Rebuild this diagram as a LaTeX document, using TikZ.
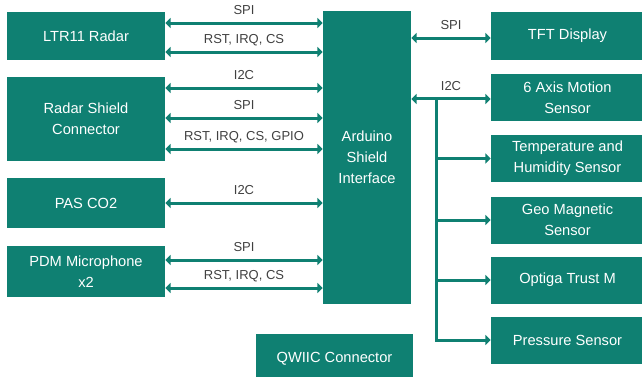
\documentclass[tikz,border=0pt]{standalone}
\usepackage{fontspec}
\setmainfont{Liberation Sans}
\usepackage{tikz}
\usetikzlibrary{arrows.meta,positioning}
\definecolor{shieldteal}{RGB}{15,128,114}
\definecolor{labelgray}{RGB}{64,64,64}

\begin{document}
\begin{tikzpicture} [
        x=0.75pt, y=-0.75pt,
        block/.style={fill=shieldteal, text=white, align=center, inner sep=0pt,
                      font=\fontsize{11}{15.75}\selectfont},
        bus/.style={draw=shieldteal, line width=2.25pt},
        lbl/.style={text=labelgray, font=\fontsize{9.75}{11}\selectfont, inner sep=1pt,
                    text height=7pt, text depth=2pt},
        >={Triangle[length=4pt, width=7.5pt]}
    ]
    \useasboundingbox (0,0) rectangle (642,376);

    % left side
    \node[block, minimum width=118.5pt, minimum height=36pt]    (ltr)    at (86,36)      {LTR11 Radar};
    \node[block, minimum width=118.5pt, minimum height=63pt]    (rsc)    at (86,119)     {Radar Shield\\Connector};
    \node[block, minimum width=118.5pt, minimum height=37.5pt]  (pas)    at (86,203)     {PAS CO2};
    \node[block, minimum width=118.5pt, minimum height=38.25pt] (pdm)    at (86,271.5)   {PDM Microphone\\x2};

    % middle
    \node[block, minimum width=66pt, minimum height=219.75pt]   (ard)    at (367,157.5)  {Arduino\\Shield\\Interface};
    \node[block, minimum width=117.75pt, minimum height=37.5pt] (qwiic)  at (334.5,359)  {QWIIC Connector};

    % right side
    \node[block, minimum width=114.75pt, minimum height=36pt]    (tft)   at (567.5,36)    {TFT Display};
    \node[block, minimum width=114.75pt, minimum height=35.25pt] (axis)  at (567.5,97.5)  {6 Axis Motion\\Sensor};
    \node[block, minimum width=114.75pt, minimum height=35.25pt] (temp)  at (567.5,158.5) {Temperature and\\Humidity Sensor};
    \node[block, minimum width=114.75pt, minimum height=35.25pt] (geo)   at (567.5,220)   {Geo Magnetic\\Sensor};
    \node[block, minimum width=114.75pt, minimum height=35.25pt] (trust) at (567.5,280)   {Optiga Trust M};
    \node[block, minimum width=114.75pt, minimum height=35.25pt] (pres)  at (567.5,340)   {Pressure Sensor};

    % LTR11
    \draw[bus, <->] ([yshift=9.75pt]ltr.east)   -- ([yshift=9.75pt]ltr.east -| ard.west)   node[lbl, midway, above=2pt] {SPI};
    \draw[bus, <->] ([yshift=-12pt]ltr.east)    -- ([yshift=-12pt]ltr.east -| ard.west)    node[lbl, midway, above=2pt] {RST, IRQ, CS};

    % Radar Shield
    \draw[bus, <->] ([yshift=23.25pt]rsc.east)  -- ([yshift=23.25pt]rsc.east -| ard.west)  node[lbl, midway, above=2pt] {I2C};
    \draw[bus, <->] ([yshift=0.75pt]rsc.east)   -- ([yshift=0.75pt]rsc.east -| ard.west)   node[lbl, midway, above=2pt] {SPI};
    \draw[bus, <->] ([yshift=-22.5pt]rsc.east)  -- ([yshift=-22.5pt]rsc.east -| ard.west)  node[lbl, midway, above=2pt] {RST, IRQ, CS, GPIO};

    % PAS CO2
    \draw[bus, <->] (pas.east)                  -- (pas.east -| ard.west)                  node[lbl, midway, above=2pt] {I2C};

    % PDM
    \draw[bus, <->] ([yshift=8.625pt]pdm.east)  -- ([yshift=8.625pt]pdm.east -| ard.west)  node[lbl, midway, above=2pt] {SPI};
    \draw[bus, <->] ([yshift=-12.4pt]pdm.east)  -- ([yshift=-12.4pt]pdm.east -| ard.west)  node[lbl, midway, above=2pt] {RST, IRQ, CS};

    % TFT
    \draw[bus, <->] ([yshift=-1.5pt]tft.west -| ard.east) -- ([yshift=-1.5pt]tft.west)     node[lbl, midway, above=2pt] {SPI};

    % I2C bus
    \draw[bus, <->] ([yshift=-1.1pt]axis.west -| ard.east) -- ([yshift=-1.1pt]axis.west)   node[lbl, midway, above=2pt] {I2C};
    \coordinate (tap) at (436,99);
    \draw[bus, ->]  (tap) |- (pres.west);
    \draw[bus, ->]  (tap |- temp.west)  -- (temp.west);
    \draw[bus, ->]  (tap |- geo.west)   -- (geo.west);
    \draw[bus, ->]  (tap |- trust.west) -- (trust.west);
\end{tikzpicture}
\end{document}
